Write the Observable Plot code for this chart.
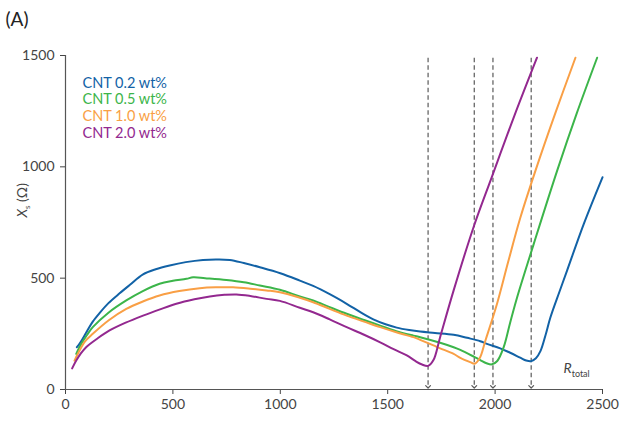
<!DOCTYPE html>
<html><head><meta charset="utf-8">
<script src="https://cdn.jsdelivr.net/npm/d3@7"></script>
<script src="https://cdn.jsdelivr.net/npm/@observablehq/plot@0.6"></script>
<style>body{margin:0;background:#fff;}</style>
</head><body><div id="chart"></div>
<script>
const series = ["CNT 0.2 wt%", "CNT 0.5 wt%", "CNT 1.0 wt%", "CNT 2.0 wt%"];
const colors = ["#1262a6", "#3cb54a", "#f99f45", "#93288f"];

const cnt02 = [[53,190],[65,205],[80,228],[100,262],[127,305],[160,345],[200,388],[252,432],[300,470],[361,517],[420,540],[485,557],[560,572],[640,582],[700,584],[765,582],[830,568],[905,549],[1000,522],[1091,489],[1153,465],[1230,428],[1309,385],[1380,343],[1433,315],[1490,293],[1542,278],[1600,267],[1651,260],[1720,254],[1807,246],[1870,232],[1931,217],[1962,205],[2024,185],[2070,165],[2117,143],[2145,130],[2167,127],[2190,140],[2211,172],[2235,245],[2257,322],[2300,440],[2335,534],[2413,744],[2500,953]];
const cnt05 = [[50,160],[70,200],[100,245],[127,280],[200,345],[283,400],[360,442],[438,475],[500,488],[563,497],[594,504],[650,500],[749,492],[830,482],[905,467],[998,448],[1091,418],[1153,400],[1230,370],[1309,340],[1390,312],[1465,287],[1540,262],[1620,242],[1651,235],[1744,210],[1807,190],[1838,178],[1900,148],[1931,132],[1960,118],[1985,113],[2010,128],[2040,190],[2070,300],[2102,412],[2180,654],[2289,983],[2380,1240],[2475,1490]];
const cnt10 = [[42,130],[60,165],[90,215],[127,250],[200,310],[283,362],[360,395],[438,422],[530,442],[625,455],[700,459],[780,459],[860,453],[936,445],[998,437],[1091,412],[1153,392],[1230,362],[1309,332],[1390,305],[1465,280],[1540,257],[1620,235],[1651,223],[1713,198],[1744,185],[1807,160],[1838,142],[1884,123],[1905,116],[1928,140],[1955,220],[2009,385],[2060,570],[2117,770],[2188,983],[2280,1240],[2374,1490]];
const cnt20 = [[31,95],[50,130],[70,160],[96,190],[150,230],[205,265],[280,300],[361,332],[440,360],[516,385],[600,405],[672,418],[740,425],[796,427],[860,420],[936,407],[998,398],[1091,367],[1153,347],[1230,315],[1309,280],[1390,246],[1465,212],[1530,180],[1589,153],[1630,127],[1660,112],[1688,106],[1713,132],[1744,235],[1807,445],[1900,730],[1985,955],[2090,1230],[2195,1490]];

const minima = [1688, 1903, 1990, 2168];
const xTicks = [0, 500, 1000, 1500, 2000, 2500];
const yTicks = [0, 500, 1000, 1500];

const rows = [];
[cnt02, cnt05, cnt10, cnt20].forEach((arr, i) => arr.forEach(([x, y]) => rows.push({x, y, s: series[i]})));

const fig = Plot.plot({
  width: 624, height: 421,
  marginLeft: 65, marginRight: 22, marginTop: 55, marginBottom: 32,
  style: {fontFamily: "Lato, sans-serif", fontSize: "14px", color: "#444", background: "#fff"},
  x: {domain: [0, 2500], ticks: xTicks, tickSize: 5, tickPadding: 5, label: null, tickFormat: d => String(d)},
  y: {domain: [0, 1500], ticks: yTicks, tickSize: 5, tickPadding: 6, label: null, tickFormat: d => String(d)},
  color: {domain: series, range: colors},
  marks: [
    Plot.ruleX([0], {stroke: "#555", strokeWidth: 1.2}),
    Plot.ruleY([0], {stroke: "#555", strokeWidth: 1.2}),
    Plot.link(minima, {x1: d => d, x2: d => d, y1: 1490, y2: 12, stroke: "#5a5a5a", strokeWidth: 1.2, strokeDasharray: "4.5,3", markerEnd: "arrow"}),
    Plot.line(rows, {x: "x", y: "y", z: "s", stroke: "s", strokeWidth: 2, curve: "catmull-rom"}),
    ...series.map((s, i) => Plot.text([s], {frameAnchor: "top-left", dx: 17, dy: 22 + i * 16.7, fill: colors[i], textAnchor: "start", fontSize: 14.5})),
    Plot.text(["Xs (Ω)"], {frameAnchor: "top-left", dx: -48, dy: 162, rotate: -90, fill: "#444", fontSize: 14}),
    Plot.text(["Rtotal"], {frameAnchor: "bottom-right", dx: -39, dy: -17, textAnchor: "start", fill: "#444", fontSize: 14}),
    Plot.text(["(A)"], {frameAnchor: "top-left", dx: -60, dy: -43, textAnchor: "start", fill: "#222", fontSize: 19})
  ]
});

const svg = d3.select(fig);
svg.selectAll("marker path").attr("stroke-dasharray", "none");
svg.selectAll("text").each(function() {
  const t = d3.select(this);
  if (this.textContent === "Xs (Ω)") {
    t.text(null);
    t.append("tspan").attr("font-style", "italic").text("X");
    t.append("tspan").attr("font-size", "8px").attr("dy", "3").text("s");
    t.append("tspan").attr("dy", "-3").text(" (Ω)");
  } else if (this.textContent === "Rtotal") {
    t.text(null);
    t.append("tspan").attr("font-style", "italic").text("R");
    t.append("tspan").attr("font-size", "9px").attr("dy", "4").text("total");
  }
});
document.getElementById("chart").append(fig);
</script>
</body></html>
